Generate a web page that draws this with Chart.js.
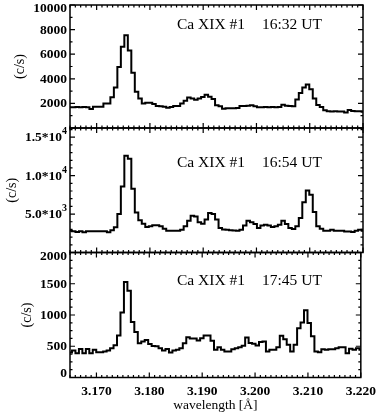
<!DOCTYPE html>
<html>
<head>
<meta charset="utf-8">
<script src="https://cdn.jsdelivr.net/npm/chart.js@4.4.0/dist/chart.umd.min.js"></script>
<style>
  body { margin: 0; background: #fff; }
  #wrap { position: relative; width: 382px; height: 414px; }
  #wrap canvas { position: absolute; left: 0; top: 0; }
</style>
</head>
<body>
<div id="wrap">
  <canvas id="p1" width="382" height="414"></canvas>
  <canvas id="p2" width="382" height="414"></canvas>
  <canvas id="p3" width="382" height="414"></canvas>
</div>
<script>
// spectrometer bins (Angstrom)
const binStart = 3.16472;
const binWidth = 0.000655;

// count rates (c/s), one value per bin
const counts1632 = [
  1690, 1690, 1700, 1690, 1700, 1690, 1550, 1730, 1730, 1730,
  2000, 2000, 2500, 3300, 4950, 6600, 7550, 6300, 4500, 2950,
  2400, 2000, 2050, 2050, 1950, 1790, 1760, 1735, 1655, 1700,
  1790, 1790, 2000, 2210, 2480, 2400, 2300, 2400, 2530, 2700,
  2550, 2350, 1850, 1760, 1560, 1600, 1600, 1600, 1620, 1790,
  1790, 1810, 1850, 1760, 1690, 1690, 1700, 1690, 1700, 1690,
  1700, 1900, 1800, 1790, 1760, 2320, 2850, 3300, 3540, 3150,
  2400, 1870, 1700, 1450, 1360, 1350, 1360, 1350, 1340, 1260,
  1470, 1380, 1360, 1360, 1330
];
const counts1654 = [
  2840, 2750, 2670, 2750, 2620, 2750, 2750, 2750, 2750, 2750,
  2750, 2620, 2880, 3270, 5000, 8600, 12600, 12200, 8300, 5200,
  4200, 3750, 3320, 3400, 3530, 3530, 3400, 3100, 2840, 2840,
  2840, 2840, 2970, 3400, 4130, 4780, 4700, 3920, 3750, 4300,
  5130, 5000, 4300, 3200, 3000, 2970, 2900, 2850, 2840, 2970,
  3500, 4130, 3920, 3700, 3180, 3500, 3620, 3500, 3320, 3400,
  3620, 4130, 3700, 3180, 3050, 3400, 4480, 6550, 8060, 7500,
  5260, 3400, 3100, 2840, 2840, 2970, 2840, 2840, 2840, 2720,
  2720, 2670, 2840, 2970, 2840
];
const counts1745 = [
  400, 432, 390, 455, 390, 455, 390, 444, 406, 406,
  417, 432, 470, 518, 673, 1042, 1529, 1390, 887, 727,
  549, 575, 602, 538, 506, 500, 470, 432, 455, 401,
  432, 444, 470, 549, 646, 625, 625, 592, 630, 672,
  672, 588, 444, 486, 443, 417, 417, 454, 470, 486,
  508, 641, 551, 540, 513, 567, 578, 417, 443, 443,
  486, 667, 614, 524, 417, 524, 790, 880, 1075, 871,
  660, 417, 406, 454, 443, 454, 454, 470, 486, 486,
  390, 460, 443, 470, 443
];

const xTicks = [3.170, 3.180, 3.190, 3.200, 3.210, 3.220];

const yTicks1 = [2000, 4000, 6000, 8000, 10000];
const yLabels1 = ['2000', '4000', '6000', '8000', '10000'];
const yTicks2 = [5000, 10000, 15000];
const yLabels2 = ['5.0*10^3', '1.0*10^4', '1.5*10^4'];
const yTicks3 = [0, 500, 1000, 1500, 2000];
const yLabels3 = ['0', '500', '1000', '1500', '2000'];

const line = 'Ca XIX #1';
const times = ['16:32 UT', '16:54 UT', '17:45 UT'];

const SERIF = '"Liberation Serif", "Times New Roman", serif';

function histPoints(counts) {
  const pts = counts.map((c, i) => ({x: binStart + i * binWidth, y: c}));
  pts.push({x: binStart + counts.length * binWidth, y: counts[counts.length - 1]});
  return pts;
}

// IDL-style box: inward ticks on all four sides, labels, panel caption
const idlAxes = {
  id: 'idlAxes',
  afterDatasetsDraw(chart) {
    const p = chart.options.plugins.idlAxes;
    const {ctx, chartArea: a} = chart;
    const xs = chart.scales.x, ys = chart.scales.y;
    ctx.save();
    ctx.strokeStyle = '#000';
    ctx.lineWidth = 1.2;
    ctx.beginPath();
    for (let m = 3165; m <= 3220; m++) {
      const px = xs.getPixelForValue(m / 1000);
      const len = m % 10 === 0 ? 5 : 2.5;
      ctx.moveTo(px, a.bottom); ctx.lineTo(px, a.bottom - len);
      ctx.moveTo(px, a.top); ctx.lineTo(px, a.top + len);
    }
    for (let v = 0; v <= ys.max; v += p.minor) {
      const py = ys.getPixelForValue(v);
      const len = v % p.major === 0 ? 5 : 2.5;
      ctx.moveTo(a.left, py); ctx.lineTo(a.left + len, py);
      ctx.moveTo(a.right, py); ctx.lineTo(a.right - len, py);
    }
    ctx.stroke();

    ctx.lineWidth = 1.5;
    ctx.strokeRect(a.left, a.top, a.right - a.left, a.bottom - a.top);

    ctx.fillStyle = '#000';
    ctx.textAlign = 'right';
    ctx.textBaseline = 'middle';
    p.ticks.forEach((v, i) => {
      let py = ys.getPixelForValue(v);
      if (v === ys.max) py += 4;
      else if (v === ys.min) py -= 3.5;
      else py += 0.5;
      const [base, sup] = p.labels[i].split('^');
      let xr = a.left - 3;
      if (sup) {
        ctx.font = 'bold 10px ' + SERIF;
        ctx.fillText(sup, xr, py - 6);
        xr -= ctx.measureText(sup).width;
      }
      ctx.font = 'bold 13.5px ' + SERIF;
      ctx.fillText(base, xr, py);
    });

    ctx.textAlign = 'left';
    ctx.font = '15.5px ' + SERIF;
    ctx.fillText(line, a.left + 107, a.top + p.captionDy);
    ctx.fillText(p.time, a.left + 192, a.top + p.captionDy);
    ctx.restore();
  }
};

function makePanel(id, counts, cfg) {
  const xScale = {
    type: 'linear', min: 3.165, max: 3.220, display: !!cfg.showX,
    grid: { display: false, drawTicks: false },
    border: { display: false }
  };
  if (cfg.showX) {
    xScale.afterBuildTicks = s => { s.ticks = xTicks.map(v => ({value: v})); };
    xScale.afterFit = s => { s.height = 36.5; };
    xScale.ticks = {
      autoSkip: false, maxRotation: 0, padding: 6, color: '#000',
      font: { family: SERIF, size: 13.5, weight: 'bold' },
      callback: v => v.toFixed(3)
    };
    xScale.title = {
      display: true, text: 'wavelength [Å]', color: '#000',
      font: { family: SERIF, size: 13.5 },
      padding: { top: 0, bottom: 0 }
    };
  }
  return new Chart(document.getElementById(id), {
    type: 'line',
    data: {
      datasets: [{
        data: histPoints(counts),
        stepped: true,
        borderColor: '#000',
        borderWidth: 2,
        pointRadius: 0,
        fill: false,
        clip: 0
      }]
    },
    options: {
      responsive: false,
      animation: false,
      events: [],
      layout: { padding: { left: 0, right: 19, top: cfg.top, bottom: cfg.bottom } },
      plugins: {
        legend: { display: false },
        tooltip: { enabled: false },
        idlAxes: {
          ticks: cfg.ticks, labels: cfg.labels, major: cfg.major, minor: cfg.minor,
          time: cfg.time, captionDy: cfg.captionDy
        }
      },
      scales: {
        x: xScale,
        y: {
          min: 0, max: cfg.max,
          ticks: { display: false },
          grid: { display: false },
          border: { display: false },
          title: {
            display: true, text: '(c/s)', color: '#000',
            font: { family: SERIF, size: 14 },
            padding: { top: cfg.titlePad, bottom: 0 }
          },
          afterFit: s => { s.width = 70; }
        }
      }
    },
    plugins: [idlAxes]
  });
}

makePanel('p1', counts1632, {
  top: 5, bottom: 286, max: 10000, ticks: yTicks1, labels: yLabels1,
  major: 2000, minor: 1000, time: times[0], captionDy: 20, titlePad: 11.6
});
makePanel('p2', counts1654, {
  top: 128, bottom: 161.5, max: 16200, ticks: yTicks2, labels: yLabels2,
  major: 5000, minor: 1000, time: times[1], captionDy: 35, titlePad: 3.6
});
makePanel('p3', counts1745, {
  top: 252.5, bottom: 0, max: 2000, ticks: yTicks3, labels: yLabels3,
  major: 500, minor: 125, time: times[2], captionDy: 28.5, titlePad: 18.6, showX: true
});
</script>
</body>
</html>
